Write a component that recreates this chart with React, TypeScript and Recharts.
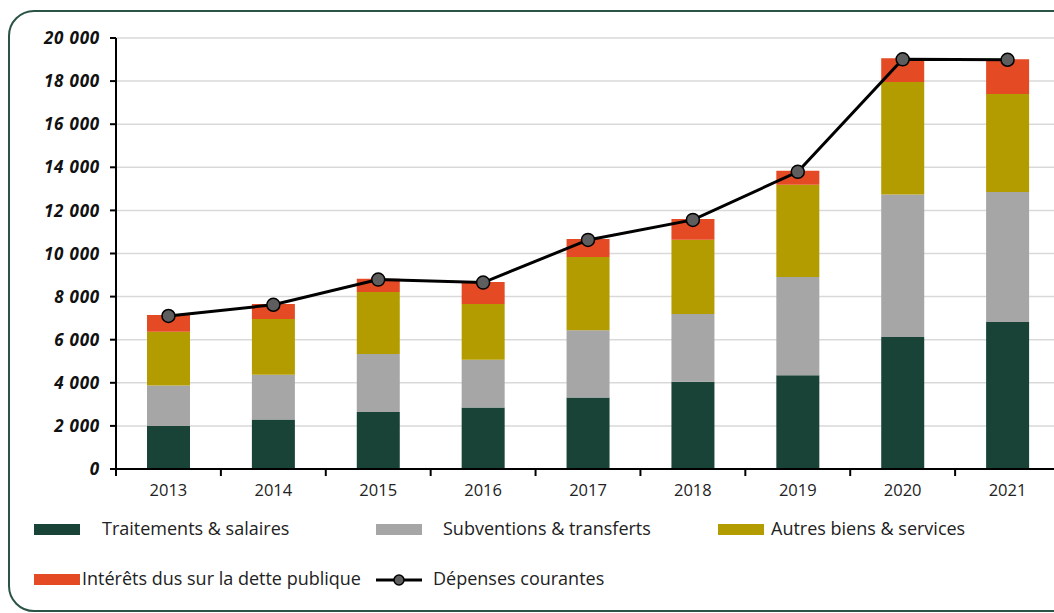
import React from 'react';
import { ComposedChart, Bar, Line, XAxis, YAxis, CartesianGrid } from 'recharts';

const years = ['2013', '2014', '2015', '2016', '2017', '2018', '2019', '2020', '2021'];
const traitements = [2000, 2300, 2640, 2855, 3320, 4045, 4355, 6130, 6825];
const subventions = [1870, 2070, 2700, 2210, 3120, 3150, 4555, 6610, 6025];
const autres = [2500, 2595, 2875, 2595, 3400, 3445, 4280, 5220, 4555];
const interets = [775, 695, 615, 1020, 835, 960, 650, 1100, 1610];
const depenses = [7100, 7620, 8790, 8650, 10630, 11560, 13790, 19010, 18990];
const yTicks = [0, 2000, 4000, 6000, 8000, 10000, 12000, 14000, 16000, 18000, 20000];

const seriesNames = {
  traitements: 'Traitements & salaires',
  subventions: 'Subventions & transferts',
  autres: 'Autres biens & services',
  interets: 'Intérêts dus sur la dette publique',
  depenses: 'Dépenses courantes',
};

const COLORS = {
  traitements: '#1A4338',
  subventions: '#A6A6A6',
  autres: '#B39C00',
  interets: '#E44A23',
};

const data = years.map((y, i) => ({
  year: y,
  traitements: traitements[i],
  subventions: subventions[i],
  autres: autres[i],
  interets: interets[i],
  depenses: depenses[i],
}));

const FONT = '"Open Sans", Lato, sans-serif';
const CHART_W = 1100;
const CHART_H = 520;
const MARGIN = { top: 38, right: 40, left: 0, bottom: 21 };
const Y_W = 116;
const BAND = (CHART_W - MARGIN.left - MARGIN.right - Y_W) / years.length;

const fmt = (v: number) => {
  const s = String(v);
  if (s.length <= 3) return s;
  return s.slice(0, s.length - 3) + ' ' + s.slice(s.length - 3);
};

const XTick = (props: any) => {
  const { x, y, payload, index } = props;
  const half = payload && payload.offset ? payload.offset : BAND / 2;
  const last = index === years.length - 1;
  return (
    <g>
      <line x1={x - half} x2={x - half} y1={y} y2={y + 7} stroke="#000" strokeWidth={2} />
      {last && <line x1={x + half} x2={x + half} y1={y} y2={y + 7} stroke="#000" strokeWidth={2} />}
      <text x={x} y={y + 27} textAnchor="middle" fontFamily={FONT} fontSize={16.5} fill="#222">
        {payload.value}
      </text>
    </g>
  );
};

const YTick = (props: any) => {
  const { x, y, payload } = props;
  return (
    <text
      x={x}
      y={y}
      dy="0.36em"
      textAnchor="end"
      fontFamily={FONT}
      fontSize={17}
      fontWeight={700}
      fontStyle="italic"
      letterSpacing={0.8}
      fill="#111"
    >
      {fmt(payload.value)}
    </text>
  );
};

const legendText: React.CSSProperties = {
  position: 'absolute',
  fontFamily: FONT,
  fontSize: 18,
  color: '#222',
  lineHeight: '22px',
  whiteSpace: 'nowrap',
};

const swatch = (left: number, top: number, color: string): React.CSSProperties => ({
  position: 'absolute',
  left,
  top,
  width: 46,
  height: 11,
  background: color,
});

export default function App() {
  return (
    <div
      style={{
        position: 'fixed',
        left: 0,
        top: 0,
        width: 1054,
        height: 613,
        overflow: 'hidden',
        background: '#fff',
      }}
    >
      <div
        style={{
          position: 'absolute',
          left: 8,
          top: 10,
          width: 1120,
          height: 602,
          border: '2px solid #2B5447',
          borderRadius: 26,
          boxSizing: 'border-box',
        }}
      />
      <div style={{ position: 'absolute', left: 0, top: 0 }}>
        <ComposedChart width={CHART_W} height={CHART_H} data={data} margin={MARGIN}>
          <CartesianGrid vertical={false} stroke="#D9D9D9" strokeWidth={1.5} />
          <XAxis
            dataKey="year"
            tick={<XTick />}
            tickLine={false}
            tickSize={0}
            tickMargin={0}
            axisLine={{ stroke: '#000', strokeWidth: 2 }}
            height={30}
            interval={0}
          />
          <YAxis
            domain={[0, 20000]}
            ticks={yTicks}
            interval={0}
            width={Y_W}
            tick={<YTick />}
            tickSize={6}
            tickMargin={10}
            tickLine={{ stroke: '#000', strokeWidth: 2 }}
            axisLine={{ stroke: '#000', strokeWidth: 2 }}
          />
          <Bar dataKey="traitements" name={seriesNames.traitements} stackId="a" fill={COLORS.traitements} barSize={43} isAnimationActive={false} />
          <Bar dataKey="subventions" name={seriesNames.subventions} stackId="a" fill={COLORS.subventions} barSize={43} isAnimationActive={false} />
          <Bar dataKey="autres" name={seriesNames.autres} stackId="a" fill={COLORS.autres} barSize={43} isAnimationActive={false} />
          <Bar dataKey="interets" name={seriesNames.interets} stackId="a" fill={COLORS.interets} barSize={43} isAnimationActive={false} />
          <Line
            dataKey="depenses"
            name={seriesNames.depenses}
            type="linear"
            stroke="#000"
            strokeWidth={3}
            dot={{ r: 6.5, fill: '#5E5E5E', stroke: '#000', strokeWidth: 1.5 }}
            isAnimationActive={false}
          />
        </ComposedChart>
      </div>

      <div style={swatch(34, 524, COLORS.traitements)} />
      <div style={{ ...legendText, left: 102, top: 517 }}>{seriesNames.traitements}</div>
      <div style={swatch(376, 524, COLORS.subventions)} />
      <div style={{ ...legendText, left: 443, top: 517 }}>{seriesNames.subventions}</div>
      <div style={swatch(718, 524, COLORS.autres)} />
      <div style={{ ...legendText, left: 771, top: 517 }}>{seriesNames.autres}</div>

      <div style={swatch(34, 574, COLORS.interets)} />
      <div style={{ ...legendText, left: 82, top: 567 }}>{seriesNames.interets}</div>
      <svg style={{ position: 'absolute', left: 374, top: 570 }} width={50} height={20}>
        <line x1={2} x2={48} y1={10} y2={10} stroke="#000" strokeWidth={3} />
        <circle cx={25} cy={10} r={5} fill="#5E5E5E" stroke="#000" strokeWidth={1.5} />
      </svg>
      <div style={{ ...legendText, left: 433, top: 567 }}>{seriesNames.depenses}</div>
    </div>
  );
}
